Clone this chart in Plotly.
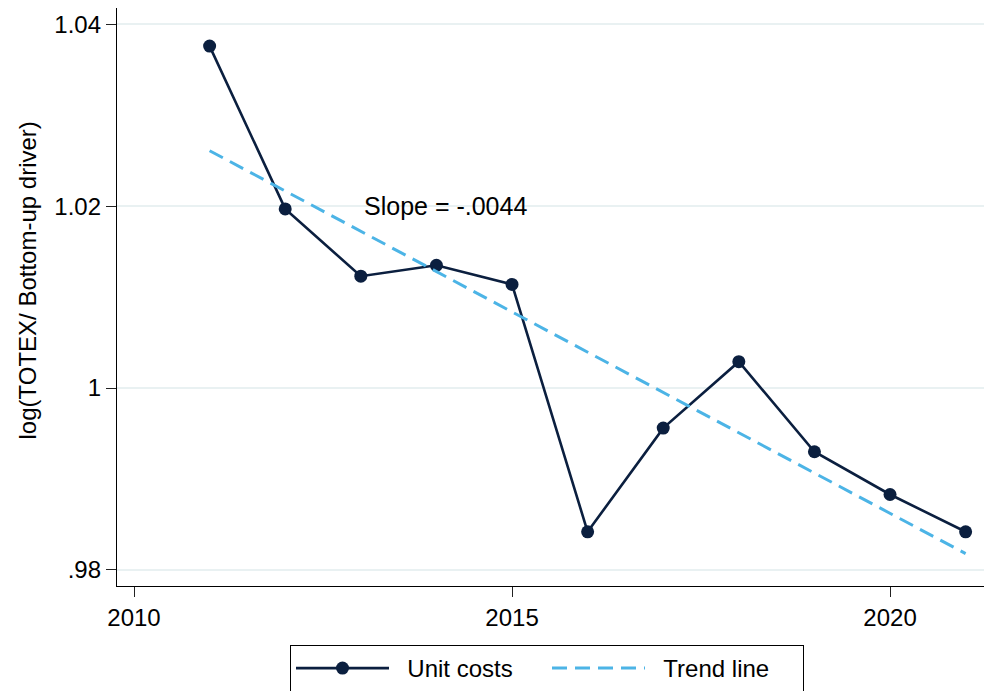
import plotly.graph_objects as go

years = [2011, 2012, 2013, 2014, 2015, 2016, 2017, 2018, 2019, 2020, 2021]
unit_costs = [1.0376, 1.0197, 1.0123, 1.0135, 1.0114, 0.9842, 0.9956, 1.0029, 0.9930, 0.9883, 0.9842]
trend_years = [2011, 2021]
trend_values = [1.0261, 0.9818]
x_ticks = [2010, 2015, 2020]
y_ticks = [0.98, 1.00, 1.02, 1.04]
y_tick_labels = [".98", "1", "1.02", "1.04"]
slope_label = "Slope = -.0044"
series_names = ["Unit costs", "Trend line"]

NAVY = "#0b1f3f"
LIGHT = "#4cb4e6"
FONT = "Liberation Sans, Arial, sans-serif"
PAD = "\u00a0\u00a0"

fig = go.Figure()
fig.add_trace(go.Scatter(
    x=years, y=unit_costs, mode="lines+markers", name=PAD + series_names[0],
    line=dict(color=NAVY, width=2.6),
    marker=dict(color=NAVY, size=13),
))
fig.add_trace(go.Scatter(
    x=trend_years, y=trend_values, mode="lines", name=PAD + series_names[1],
    line=dict(color=LIGHT, width=3, dash="15px,8px"),
))

fig.add_annotation(x=2013, y=1.02, xref="x", yref="y", text=slope_label,
                   showarrow=False, xanchor="left", yanchor="middle", xshift=1,
                   font=dict(size=25, color="black", family=FONT))
fig.add_annotation(x=-0.103, y=0.528, xref="paper", yref="paper",
                   text="log(TOTEX/ Bottom-up driver)", textangle=-90,
                   showarrow=False, xanchor="center", yanchor="middle",
                   font=dict(size=24, color="black", family=FONT))

fig.update_layout(
    width=984, height=691,
    margin=dict(l=117, r=0, t=8, b=105),
    paper_bgcolor="white", plot_bgcolor="white",
    font=dict(family=FONT, size=24, color="black"),
    showlegend=True,
    legend=dict(
        orientation="h", xref="container", yref="container",
        x=290/984, y=1-645/691, xanchor="left", yanchor="top",
        bordercolor="black", borderwidth=1, bgcolor="white",
        font=dict(size=24, family=FONT, color="black"),
        itemwidth=93, entrywidth=148, entrywidthmode="pixels",
        traceorder="normal",
    ),
    xaxis=dict(
        range=[2009.775, 2021.243], tickvals=x_ticks,
        ticks="outside", ticklen=10, tickwidth=1.3, tickcolor="#222",
        showline=True, linecolor="black", linewidth=1.3,
        showgrid=False, zeroline=False,
        tickfont=dict(size=24),
    ),
    yaxis=dict(
        range=[0.97824, 1.04179], tickvals=y_ticks, ticktext=y_tick_labels,
        ticks="outside", ticklen=10, tickwidth=1.3, tickcolor="#222",
        showline=True, linecolor="black", linewidth=1.3,
        showgrid=True, gridcolor="#e9f1f2", gridwidth=1.5, zeroline=False,
        tickfont=dict(size=24),
    ),
)

fig.write_html("out.html")
